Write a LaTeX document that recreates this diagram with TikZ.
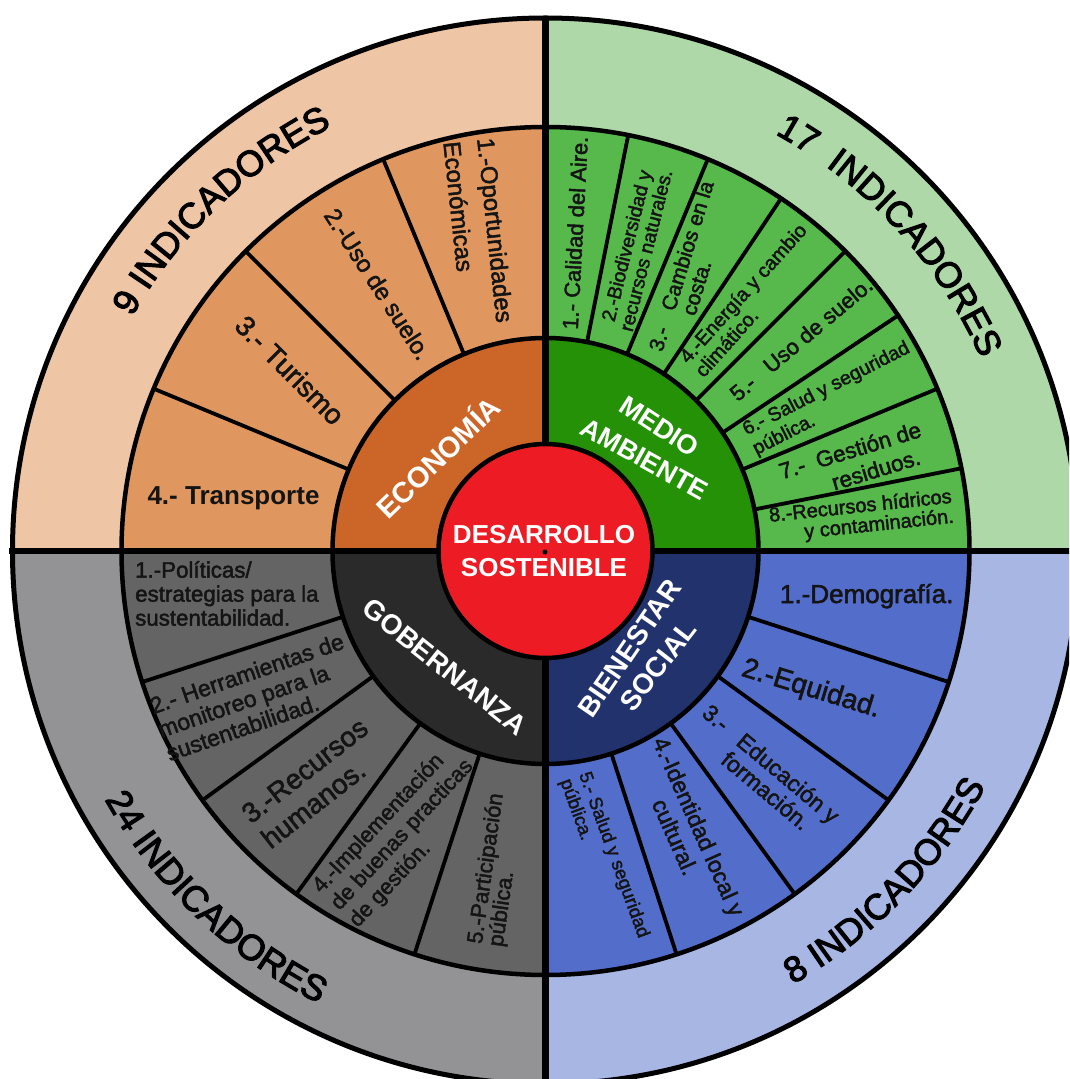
\documentclass[tikz,border=0pt]{standalone}
\usepackage{fontspec}
\setmainfont{Liberation Sans}
\newfontfamily\txtfont[FakeBold=2]{Liberation Sans}
\newfontfamily\outfont[FakeBold=3]{Liberation Sans}
\usetikzlibrary{decorations.text}
\definecolor{orL}{HTML}{EEC6A6}
\definecolor{orS}{HTML}{E0975F}
\definecolor{orM}{HTML}{CB6628}
\definecolor{grL}{HTML}{AED8A8}
\definecolor{grS}{HTML}{57B84B}
\definecolor{grM}{HTML}{249107}
\definecolor{gyL}{HTML}{939396}
\definecolor{gyS}{HTML}{646464}
\definecolor{gyM}{HTML}{2A2A2A}
\definecolor{blL}{HTML}{A8B6E3}
\definecolor{blS}{HTML}{536DCA}
\definecolor{blM}{HTML}{22326C}
\definecolor{redC}{HTML}{ED1C24}
\newcommand{\fsz}[2]{\fontsize{#1}{#2}\selectfont}
\newcommand{\tsz}[2]{\txtfont\fontsize{#1}{#2}\selectfont}
\newcommand{\outerfont}{\outfont\fontsize{36}{40}\selectfont}
\newcommand{\wheelsector}[3]{\fill[#1] (0,0) -- (#2:#3) arc[start angle=#2, end angle=#2+90, radius=#3] -- cycle;}
\tikzset{
  lbl/.style={inner sep=0pt, text=black!92},
  cat/.style={inner sep=0pt, text=white, font=\bfseries\fsz{28}{31}},
  outertext/.style={decorate, decoration={text along path, text align=center, text={|\outerfont|#1}}},
}
\begin{document}
\begin{tikzpicture}[x=1pt,y=1pt]
\useasboundingbox (-545.5,-528) rectangle (523.5,551);
\clip (-545.5,-528) rectangle (523.5,551);
% quadrant sectors
\wheelsector{orL}{90}{533pt}\wheelsector{orS}{90}{424pt}\wheelsector{orM}{90}{213pt}
\wheelsector{grL}{0}{533pt}\wheelsector{grS}{0}{424pt}\wheelsector{grM}{0}{213pt}
\wheelsector{gyL}{180}{533pt}\wheelsector{gyS}{180}{424pt}\wheelsector{gyM}{180}{213pt}
\wheelsector{blL}{270}{533pt}\wheelsector{blS}{270}{424pt}\wheelsector{blM}{270}{213pt}
% segment dividers
\foreach \a in {112.5,135,157.5,78.75,67.5,56.25,45,33.75,22.5,11.25,198,216,234,252,-18,-36,-54,-72}
  \draw[line width=3.8pt] (\a:213pt) -- (\a:424pt);
% rings
\draw[line width=4.5pt] (0,0) circle[radius=424pt];
\draw[line width=4.5pt] (0,0) circle[radius=213pt];
\draw[line width=5pt] (0,0) circle[radius=533pt];
% cross
\draw[line width=6.5pt] (0,-532) -- (0,532);
\draw[line width=6.5pt] (-536,0) -- (536,0);
% centre
\draw[line width=4.5pt, fill=redC] (0,0) circle[radius=107pt];
\fill (-0.5,-1) circle[radius=2.5pt];
\node[cat, font=\bfseries\fsz{26}{33}, align=center] (core) at (-1.5,0) {DESARROLLO\\SOSTENIBLE};

% outer ring texts
\path[outertext={9 INDICADORES}] (178.6:475pt) arc[start angle=178.6, end angle=88.6, radius=475pt];
\path[outertext={17{\ \ }INDICADORES}] (87.5:476pt) arc[start angle=87.5, end angle=-2.5, radius=476pt];
\path[outertext={24 INDICADORES}] (181.4:506pt) arc[start angle=181.4, end angle=271.4, radius=506pt];
\path[outertext={8 INDICADORES}] (-89.2:499pt) arc[start angle=-89.2, end angle=0.8, radius=499pt];

% category labels
\node[cat, font=\bfseries\fsz{29}{31}, rotate=44] (eco) at (-108.7,94.9) {ECONOMÍA};
\node[cat, font=\bfseries\fsz{27}{30}, rotate=-33] (medio) at (114,124.5) {MEDIO};
\node[cat, font=\bfseries\fsz{27}{30}, rotate=-29] (amb) at (99,91.8) {AMBIENTE};
\node[cat, rotate=-38.5] (gob) at (-100.9,-115.8) {GOBERNANZA};
\node[cat, rotate=55.6] (bien) at (84.1,-97.2) {BIENESTAR};
\node[cat, rotate=52] (soc) at (112.5,-114.4) {SOCIAL};

% economia
\node[lbl, rotate=-84, align=left, font=\tsz{24}{34}] (o1) at (-67,319) {1.-Oportunidades\\Económicas};
\node[lbl, rotate=-57, font=\tsz{24}{28}] (o2) at (-167.5,267) {2.-Uso de suelo.};
\node[lbl, rotate=-45, font=\tsz{28}{32}] (o3) at (-255.5,181) {3.- Turismo};
\node[lbl, anchor=base, font=\bfseries\fsz{26}{30}] (o4) at (-312,46) {4.- Transporte};

% medio ambiente
\node[lbl, rotate=87, font=\tsz{22}{25}] (g1) at (29.5,318) {1.- Calidad del Aire.};
\node[lbl, rotate=76, align=center, font=\tsz{19.5}{20}] (g2) at (90.5,303) {2.-Biodiversidad y\\recursos naturales.};
\node[lbl, rotate=73, align=left, font=\tsz{21}{21}] (g3) at (145.5,282) {3.-\hspace{18pt}Cambios en la\\\hspace{44pt}costa.};
\node[lbl, rotate=48, align=left, font=\tsz{20}{21}] (g4) at (205,251) {4.-Energía y cambio\\climático.};
\node[lbl, rotate=40, font=\tsz{22}{25}] (g5) at (255.5,212) {5.-\hspace{18pt}Uso de suelo.};
\node[lbl, rotate=27, align=left, font=\tsz{19.5}{22}] (g6) at (286,152) {6.- Salud y seguridad\\pública.};
\node[lbl, rotate=17, align=center, font=\tsz{22.5}{26}] (g7) at (326.5,94) {\makebox[0pt][r]{7.-\hspace{12pt}}Gestión de\\residuos.};
\node[lbl, rotate=6, align=right, font=\tsz{20}{20}] (g8) at (316,34) {8.-Recursos hídricos\\y contaminación.};

% gobernanza
\node[lbl, anchor=north west, align=left, font=\tsz{22.3}{24}] (y1) at (-410.5,-10) {1.-Políticas/\\estrategias para la\\sustentabilidad.};
\node[lbl, rotate=19, align=left, font=\tsz{23}{25}] (y2) at (-290.5,-146) {2.- Herramientas de\\monitoreo para la\\sustentabilidad.};
\node[lbl, rotate=38, align=left, font=\tsz{28}{32}] (y3) at (-231,-232) {3.-Recursos\\humanos.};
\node[lbl, rotate=47, align=left, font=\tsz{22}{25}] (y4) at (-143,-284) {4.-Implementación\\de buenas practicas\\de gestión.};
\node[lbl, rotate=82, align=left, font=\tsz{22}{21}] (y5) at (-48.5,-319) {5.-Participación\\pública.};

% bienestar social
\node[lbl, anchor=base, font=\tsz{26}{30}] (b1) at (321.2,-52) {1.-Demografía.};
\node[lbl, rotate=-17, font=\tsz{28}{32}] (b2) at (265.5,-138.5) {2.-Equidad.};
\node[lbl, rotate=-40, align=left, font=\tsz{23}{24}] (b3) at (235.2,-236.1) {\makebox[0pt][r]{3.-\hspace{18pt}}Educación y\\formación.};
\node[lbl, rotate=-66, align=center, font=\tsz{23}{26}] (b4) at (141.7,-280.7) {4.-Identidad local y\\cultural.};
\node[lbl, rotate=-70, align=left, font=\tsz{18.5}{20}] (b5) at (58.5,-307.5) {5.- Salud y seguridad\\pública.};
\end{tikzpicture}
\end{document}
